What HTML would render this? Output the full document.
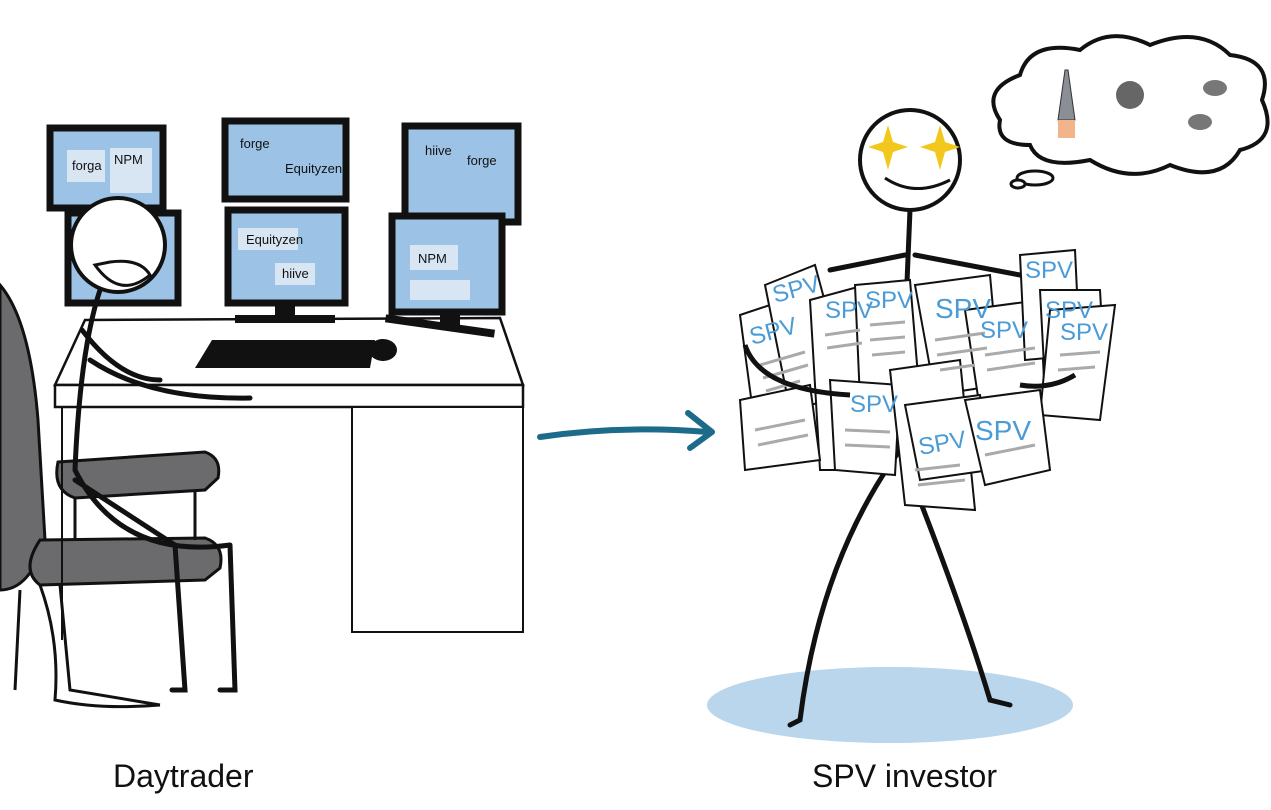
<!DOCTYPE html>
<html><head><meta charset="utf-8"><style>
html,body{margin:0;padding:0;background:#fff;}
svg{display:block;}
text{font-family:"Liberation Sans",sans-serif;}
</style></head><body>
<svg width="1271" height="810" viewBox="0 0 1271 810" xmlns="http://www.w3.org/2000/svg">
<!-- Chair -->
<path d="M0,285 Q30,320 38,420 L45,540 Q30,590 0,590 Z" fill="#6b6b6d" stroke="#111" stroke-width="3"/>
<path d="M40,540 L205,538 Q225,545 220,568 L205,580 L40,585 Q20,570 40,540Z" fill="#6b6b6d" stroke="#111" stroke-width="3"/>
<path d="M58,462 L205,452 Q222,458 218,478 L205,490 L75,498 Q52,490 58,462Z" fill="#6b6b6d" stroke="#111" stroke-width="3"/>
<path d="M75,498 L75,540 M195,490 L195,540" stroke="#111" stroke-width="3"/>
<path d="M60,585 L70,690 L160,705 M20,590 L15,690" stroke="#111" stroke-width="3" fill="none"/>
<!-- Desk -->
<path d="M55,385 L85,320 L500,318 L523,385 Z" fill="#fff" stroke="#111" stroke-width="2.5"/>
<rect x="55" y="385" width="468" height="22" fill="#fff" stroke="#111" stroke-width="2.5"/>
<rect x="352" y="407" width="171" height="225" fill="#fff" stroke="#111" stroke-width="2"/>
<path d="M62,407 L62,640" stroke="#111" stroke-width="2"/>
<!-- Monitors -->
<g stroke="#111" stroke-width="7" fill="#9cc3e6">
<rect x="50" y="128" width="113" height="80"/>
<rect x="225" y="121" width="121" height="78"/>
<rect x="405" y="126" width="113" height="96"/>
<rect x="68" y="213" width="110" height="90"/>
<rect x="228" y="210" width="117" height="93"/>
<rect x="392" y="216" width="110" height="96"/>
</g>
<g fill="#111"><rect x="275" y="303" width="20" height="15"/><rect x="235" y="315" width="100" height="8"/>
<rect x="440" y="312" width="20" height="15"/><rect x="385" y="322" width="110" height="8" transform="rotate(8 440 326)"/></g>
<g font-size="13" fill="#111">
<rect x="67" y="150" width="38" height="32" fill="#d8e5f2"/><text x="72" y="170">forga</text>
<rect x="110" y="148" width="42" height="45" fill="#d8e5f2"/><text x="114" y="164">NPM</text>
<text x="240" y="148">forge</text><text x="285" y="173">Equityzen</text>
<text x="425" y="155">hiive</text><text x="467" y="165">forge</text>
<rect x="238" y="228" width="60" height="22" fill="#d8e5f2"/><text x="246" y="244">Equityzen</text>
<rect x="275" y="263" width="40" height="22" fill="#d8e5f2"/><text x="282" y="278">hiive</text>
<rect x="410" y="245" width="48" height="25" fill="#d8e5f2"/><text x="418" y="263">NPM</text>
<rect x="410" y="280" width="60" height="20" fill="#d8e5f2"/>
</g>
<!-- Keyboard & mouse -->
<path d="M212,340 L375,340 L370,368 L195,368 Z" fill="#111"/>
<ellipse cx="383" cy="350" rx="14" ry="11" fill="#111"/>
<!-- Daytrader figure -->
<circle cx="118" cy="245" r="47" fill="#fff" stroke="#111" stroke-width="4"/>
<path d="M95,265 Q120,300 150,275 Q140,258 110,262Z" fill="#fff" stroke="#111" stroke-width="3"/>
<path d="M100,290 Q80,350 75,470 M82,330 Q120,380 160,380 M90,360 Q150,400 250,398 M75,470 Q120,560 230,545 M75,480 L175,545 L185,690 L172,690 M230,545 L235,690 L220,690" stroke="#111" stroke-width="5" fill="none" stroke-linecap="round"/>
<!-- chair base -->
<path d="M40,585 Q60,640 55,700 Q100,710 160,705" stroke="#111" stroke-width="3" fill="none"/>
<!-- Arrow -->
<path d="M540,437 Q620,425 708,432" stroke="#1d6b8a" stroke-width="6" fill="none" stroke-linecap="round"/>
<path d="M688,413 L712,432 L690,448" stroke="#1d6b8a" stroke-width="6" fill="none" stroke-linecap="round" stroke-linejoin="round"/>
<!-- SPV investor -->
<ellipse cx="890" cy="705" rx="183" ry="38" fill="#b9d6ec"/>
<path d="M910,210 L900,450 M900,450 Q820,560 800,720 L790,725 M900,450 Q960,600 990,700 L1010,705 M905,255 L830,270 M915,255 L1020,275" stroke="#111" stroke-width="5" fill="none" stroke-linecap="round"/>
<g stroke="#111" stroke-width="2" fill="#fff">
<path d="M740,315 L800,295 L830,440 L760,465 Z"/>
<path d="M765,285 L815,265 L850,395 L790,410 Z"/>
<path d="M810,300 L865,285 L885,470 L820,470 Z"/>
<path d="M855,285 L910,280 L920,400 L860,400 Z"/>
<path d="M915,285 L990,275 L1000,385 L935,395 Z"/>
<path d="M965,310 L1040,300 L1045,400 L980,410 Z"/>
<path d="M1020,255 L1075,250 L1080,355 L1025,360 Z"/>
<path d="M1040,290 L1100,290 L1105,380 L1045,385 Z"/>
<path d="M1050,310 L1115,305 L1100,420 L1040,415 Z"/>
<path d="M740,400 L810,385 L820,460 L745,470 Z"/>
<path d="M830,380 L900,385 L895,475 L835,470 Z"/>
<path d="M890,370 L960,360 L975,510 L905,505 Z"/>
<path d="M905,405 L980,395 L990,470 L920,480 Z"/>
<path d="M965,400 L1040,390 L1050,470 L985,485 Z"/>
</g>
<g stroke="#aaa" stroke-width="3">
<path d="M760,365 L805,352 M763,378 L808,365 M766,391 L800,381"/>
<path d="M825,335 L860,330 M827,348 L862,343"/>
<path d="M870,325 L905,322 M870,340 L905,337 M872,355 L905,352"/>
<path d="M935,340 L985,333 M937,355 L987,348 M940,370 L975,365"/>
<path d="M985,355 L1035,348 M987,370 L1035,363"/>
<path d="M1060,355 L1100,352 M1058,370 L1095,367"/>
<path d="M755,430 L805,420 M758,445 L808,435"/>
<path d="M845,430 L890,432 M845,445 L890,447"/>
<path d="M915,470 L960,465 M918,485 L965,480"/>
<path d="M985,455 L1035,445"/>
</g>
<g fill="#4a9bd6" font-size="24">
<text x="752" y="345" transform="rotate(-15 752 345)">SPV</text>
<text x="775" y="303" transform="rotate(-15 775 303)">SPV</text>
<text x="825" y="318">SPV</text>
<text x="865" y="308">SPV</text>
<text x="935" y="318" font-size="28">SPV</text>
<text x="980" y="338">SPV</text>
<text x="1025" y="278">SPV</text>
<text x="1045" y="318">SPV</text>
<text x="1060" y="340">SPV</text>
<text x="850" y="412">SPV</text>
<text x="920" y="455" transform="rotate(-10 920 455)">SPV</text>
<text x="975" y="440" font-size="28">SPV</text>
</g>
<path d="M745,345 Q760,390 850,395 M1075,375 Q1050,390 1020,385" stroke="#111" stroke-width="5" fill="none"/>
<circle cx="910" cy="160" r="50" fill="#fff" stroke="#111" stroke-width="4"/>
<g fill="#f2c81c">
<path d="M888,125 L893,142 L908,147 L893,152 L888,170 L883,152 L868,147 L883,142Z"/>
<path d="M940,125 L945,142 L960,147 L945,152 L940,170 L935,152 L920,147 L935,142Z"/>
</g>
<path d="M885,178 Q915,198 950,180" stroke="#111" stroke-width="3" fill="none"/>
<!-- Thought cloud -->
<path d="M1000,120 Q980,90 1020,75 Q1030,40 1080,50 Q1110,25 1150,45 Q1200,25 1230,55 Q1275,60 1262,100 Q1280,140 1240,150 Q1220,185 1170,165 Q1130,185 1090,160 Q1040,170 1030,145 Q995,145 1000,120Z" fill="#fff" stroke="#111" stroke-width="4"/>
<ellipse cx="1035" cy="178" rx="18" ry="7" fill="#fff" stroke="#111" stroke-width="3"/>
<ellipse cx="1018" cy="184" rx="7" ry="4" fill="#fff" stroke="#111" stroke-width="3"/>
<path d="M1065,70 L1058,120 L1075,120 L1068,70Z" fill="#8a8f96" stroke="#333"/>
<rect x="1058" y="120" width="17" height="18" fill="#f2b48a"/>
<circle cx="1130" cy="95" r="14" fill="#666"/>
<ellipse cx="1215" cy="88" rx="12" ry="8" fill="#777"/>
<ellipse cx="1200" cy="122" rx="12" ry="8" fill="#777"/>
<!-- labels -->
<text x="113" y="787" font-size="32" fill="#111">Daytrader</text>
<text x="812" y="787" font-size="32" fill="#111">SPV  investor</text>
</svg>
</body></html>
